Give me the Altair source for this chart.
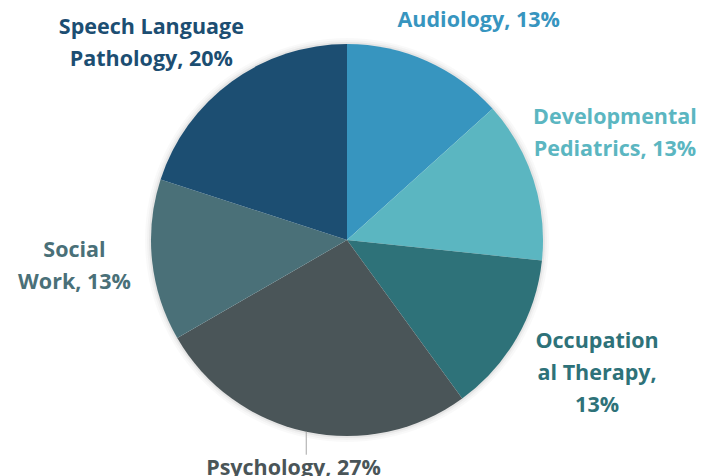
import altair as alt
import pandas as pd

# ---- data ----
categories = ["Audiology", "Developmental Pediatrics", "Occupational Therapy",
              "Psychology", "Social Work", "Speech Language Pathology"]
counts = [2, 2, 2, 4, 2, 3]
labels = ["Audiology, 13%", "Developmental\nPediatrics, 13%", "Occupation\nal Therapy,\n13%",
          "Psychology, 27%", "Social\nWork, 13%", "Speech Language\nPathology, 20%"]

# ---- styling ----
colors = ["#3795BF", "#5BB6C1", "#2E7279", "#4A5558", "#4A7078", "#1C4E72"]
label_radius = [255, 287, 283, 233, 274, 275]
label_dx = [28, -5, 5, -5, 0, -34]
label_dy = [14, -33, -40, 1, -18, 10]
PIE_R = 196

df = pd.DataFrame({"order": list(range(len(categories))), "category": categories,
                   "count": counts, "label": labels})

color = alt.Color("category:N", scale=alt.Scale(domain=categories, range=colors), legend=None)

base = (alt.Chart(df)
        .transform_joinaggregate(total="sum(count)")
        .transform_window(cum="sum(count)", sort=[alt.SortField("order")], frame=[None, 0])
        .transform_calculate(start="2*PI*(datum.cum - datum.count)/datum.total",
                             end="2*PI*datum.cum/datum.total",
                             mid="PI*(2*datum.cum - datum.count)/datum.total"))

# soft shadow rings around the pie
ring_base = base.transform_aggregate(n="count()").transform_calculate(t0="0", t1="2*PI")
shadows = []
for r_in, r_out, op in [(PIE_R - 1, PIE_R + 2, 0.10), (PIE_R + 2, PIE_R + 4, 0.05), (PIE_R + 4, PIE_R + 6, 0.025)]:
    shadows.append(ring_base.mark_arc(radius=r_out, radius2=r_in, color="#000000", opacity=op)
                   .encode(theta=alt.Theta("t0:Q", scale=None), theta2="t1:Q"))

pie = base.mark_arc(radius=PIE_R).encode(
    theta=alt.Theta("start:Q", scale=None), theta2="end:Q", color=color)

leader = base.transform_filter(alt.datum.category == "Psychology").transform_calculate(
    lx=f"width/2 + {PIE_R}*sin(datum.mid)",
    ly1=f"height/2 - {PIE_R}*cos(datum.mid)",
    ly2=f"height/2 - {PIE_R}*cos(datum.mid) + 23",
).mark_rule(color="#A6A6A6", strokeWidth=1).encode(
    x=alt.X("lx:Q", scale=None, axis=None),
    y=alt.Y("ly1:Q", scale=None, axis=None), y2="ly2:Q")

layers = shadows + [pie, leader]
for i, cat in enumerate(categories):
    layers.append(
        base.transform_filter(alt.datum.category == cat).mark_text(
            radius=label_radius[i], dx=label_dx[i], dy=label_dy[i],
            font="Open Sans", fontWeight="bold", fontSize=21.5, lineBreak="\n", lineHeight=32,
            align="center", baseline="middle"
        ).encode(theta=alt.Theta("mid:Q", scale=None), text="label:N", color=color)
    )

chart = alt.layer(*layers).properties(
    width=678, height=464, autosize="none",
    padding={"left": 0, "top": 0, "right": 21, "bottom": 4}
).configure_view(stroke=None)

chart.save("out.html", embed_options={"renderer": "svg", "actions": False})
